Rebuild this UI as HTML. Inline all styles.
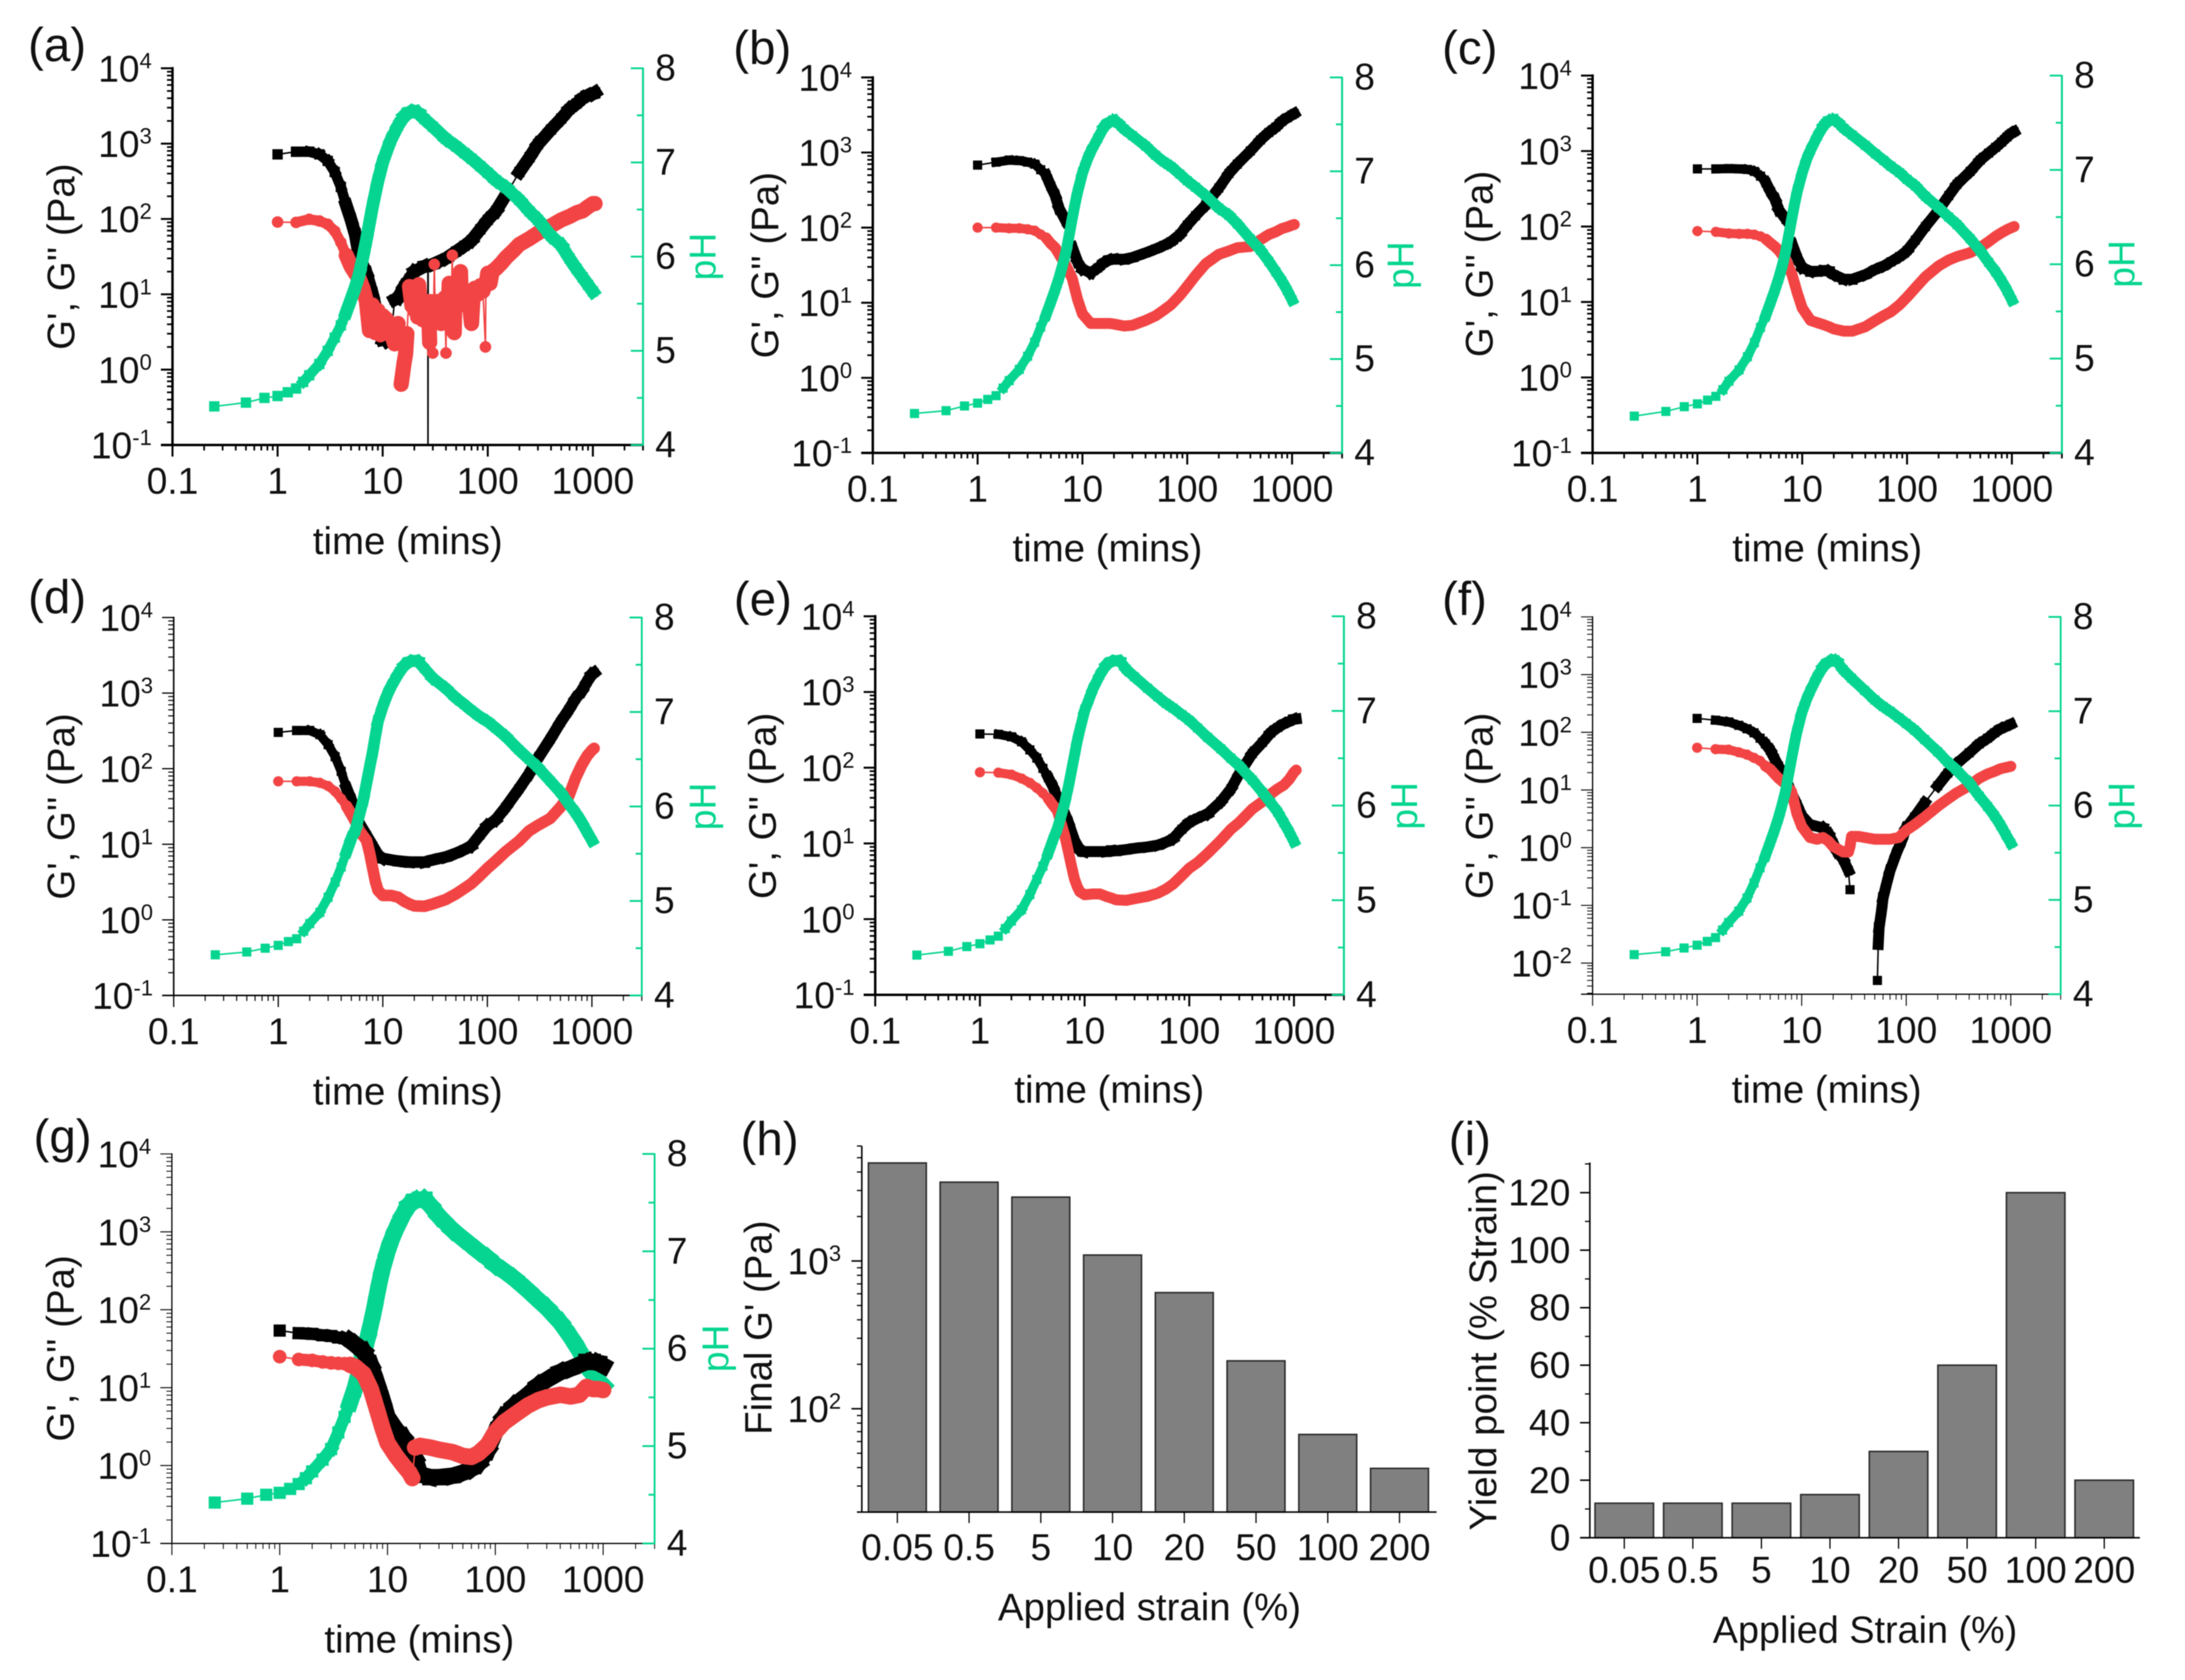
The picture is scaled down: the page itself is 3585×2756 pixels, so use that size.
<!DOCTYPE html>
<html lang="en">
<head>
<meta charset="utf-8">
<title>Rheology and pH panels</title>
<style>
html,body{margin:0;padding:0;background:#fff;}
svg{display:block;filter:blur(0.9px);}
text{font-family:"Liberation Sans",sans-serif;font-size:61px;fill:#111;}
.pl{font-size:78px;}
.at{font-size:63px;}
.gt{fill:#05d590;}
</style>
</head>
<body>
<svg id="fig" xmlns="http://www.w3.org/2000/svg" width="3585" height="2756" viewBox="0 0 3585 2756">
<rect width="3585" height="2756" fill="#fff"/>
<defs id="defs"></defs>
<text class="pl" x="46" y="100">(a)</text>
<text class="pl" x="1203" y="105">(b)</text>
<text class="pl" x="2366" y="105">(c)</text>
<text class="pl" x="46" y="1006">(d)</text>
<text class="pl" x="1204" y="1009">(e)</text>
<text class="pl" x="2366" y="1009">(f)</text>
<text class="pl" x="55" y="1891">(g)</text>
<text class="pl" x="1215" y="1895">(h)</text>
<text class="pl" x="2377" y="1895">(i)</text>

<text class="at" x="669" y="909" text-anchor="middle">time (mins)</text>
<text class="at" x="1817" y="921" text-anchor="middle">time (mins)</text>
<text class="at" x="2998" y="921" text-anchor="middle">time (mins)</text>
<text class="at" x="669" y="1812" text-anchor="middle">time (mins)</text>
<text class="at" x="1820" y="1809" text-anchor="middle">time (mins)</text>
<text class="at" x="2997" y="1809" text-anchor="middle">time (mins)</text>
<text class="at" x="688" y="2711" text-anchor="middle">time (mins)</text>
<text class="at" x="1886" y="2658" text-anchor="middle">Applied strain (%)</text>
<text x="3060" y="2695" text-anchor="middle" font-size="62" style="font-size:62px">Applied Strain (%)</text>

<text class="at" transform="translate(122,421) rotate(-90)" text-anchor="middle">G', G'' (Pa)</text>
<text class="at" transform="translate(1277,435) rotate(-90)" text-anchor="middle">G', G'' (Pa)</text>
<text class="at" transform="translate(2449,433) rotate(-90)" text-anchor="middle">G', G'' (Pa)</text>
<text class="at" transform="translate(122,1323) rotate(-90)" text-anchor="middle">G', G'' (Pa)</text>
<text class="at" transform="translate(1273,1322) rotate(-90)" text-anchor="middle">G', G'' (Pa)</text>
<text class="at" transform="translate(2449,1322) rotate(-90)" text-anchor="middle">G', G'' (Pa)</text>
<text class="at" transform="translate(121,2212) rotate(-90)" text-anchor="middle">G', G'' (Pa)</text>
<text class="at" transform="translate(1266,2178) rotate(-90)" text-anchor="middle">Final G' (Pa)</text>
<text class="at" transform="translate(2455,2216) rotate(-90)" text-anchor="middle">Yield point (% Strain)</text>

<text class="gt" transform="translate(1174,421) rotate(-90)" text-anchor="middle">pH</text>
<text class="gt" transform="translate(2319,435) rotate(-90)" text-anchor="middle">pH</text>
<text class="gt" transform="translate(3502,433) rotate(-90)" text-anchor="middle">pH</text>
<text class="gt" transform="translate(1174,1323) rotate(-90)" text-anchor="middle">pH</text>
<text class="gt" transform="translate(2325,1322) rotate(-90)" text-anchor="middle">pH</text>
<text class="gt" transform="translate(3502,1322) rotate(-90)" text-anchor="middle">pH</text>
<text class="gt" transform="translate(1195,2212) rotate(-90)" text-anchor="middle">pH</text>
</svg>
<script>
// ---- tick labels ----
const timeTickLabels = ["0.1","1","10","100","1000"];
const timeTickValues = [0.1,1,10,100,1000];
const modulusExponents = [4,3,2,1,0,-1];
const modulusExponentsF = [4,3,2,1,0,-1,-2];
const phTickValues = [4,5,6,7,8];
const phMinorValues = [4.5,5.5,6.5,7.5];

// ---- shared sampling times (minutes) ----
const timeG = [1,1.5,2,2.5,3,3.5,4,4.5,5,5.5,6,7,8,9,10,12,14,16,18,20,25,30,40,50,60,70,85,100,120,150,200,250,300,400,500,600,700,800,900,1000,1050];
const timeG1000 = [1,1.5,2,2.5,3,3.5,4,4.5,5,5.5,6,7,8,9,10,12,14,16,18,20,25,30,40,50,60,70,85,100,120,150,200,250,300,400,500,600,700,800,900,1000];
const timePh = [0.25,0.5,0.75,1,1.25,1.5,1.75,2,2.5,3,3.5,4,4.5,5,5.5,6,6.5,7,7.5,8,8.5,9,10,11,12,14,16,18,20,22,25,30,40,50,60,70,85,100,120,150,200,250,300,400,500,600,700,800,900,1000];

// ---- panel (a) ----
const aTimeStorage = [1,1.5,2,2.5,3,3.5,4,4.5,5,5.5,6,7,8,9,10,11,12,13,14,16,18,20,25,26.9,27,27.1,30,40,50,60,70,85,100,120,150,200,250,300,400,500,600,700,800,900,1000,1050];
const aStorage = [720,780,780,720,590,420,266,152,97,61,31,19,10,5,2.5,2.4,2.6,8.5,9,12.7,16,20,23.5,24,0.05,24,25,30,37,44,52,73,97,128,213,420,660,980,1540,2150,2880,3400,4000,4370,4570,4780];
const aTimeLoss = [1,1.5,2,2.5,3,3.5,4,4.5,5,5.5,6,6.5,7,7.5,8,8.5,9,9.5,10,11,12,13,14,15,16,16.5,17,18,19,20,20.5,21,21.5,22,23,24,25,26,27,27.5,28,28.5,29,30,30.5,31,31.5,32,33,34,35,36,36.5,37,38,39,40,40.5,41,42,43,44,45,46,46.5,47,48,48.5,50,52,54,55,56,58,60,63,66,68,70,72,75,80,85,90,95,96,100,105,110,120,135,150,175,200,250,300,400,500,600,700,800,900,1000,1050];
const aLoss = [91,90,99,94,85,69,49,33,23.5,19,16,12,8.1,3.3,7.2,3.1,6.1,2.9,5.2,4.6,3.1,2.2,4.1,0.64,1.25,1.6,3,12.7,7,9.6,6,8,5,13.4,6,4.6,7,6.4,8,5,2.3,6,8,1.66,6,25,7,6,8,5.5,8,4.1,6,8,6.5,9,1.66,6,8,6,14,7,9,33,7,10,3.1,7,10,7,10,20,8,11,7.5,11,8,6,4.1,8,12,10,13,11,2,13,19,14,20,22,26,31,38,46,55,65,81,97,108,121,128,145,160,160];
const aPh = [4.41,4.45,4.50,4.52,4.56,4.60,4.67,4.74,4.86,5.0,5.14,5.27,5.41,5.55,5.68,5.82,6.0,6.18,6.36,6.53,6.67,6.8,7.0,7.13,7.24,7.39,7.49,7.53,7.54,7.52,7.46,7.38,7.25,7.17,7.1,7.04,6.96,6.89,6.81,6.73,6.6,6.48,6.39,6.22,6.12,5.98,5.87,5.78,5.7,5.63];

// ---- panel (b) ----
const bStorage = [680,745,790,780,745,700,590,500,355,267,180,120,55,35,28,25,29,34,37,38,38,40,46,52,58,65,81,108,144,200,337,527,700,1050,1470,1850,2180,2600,2900,3170,3300];
const bLoss = [100,100,98,98,95,91,81,73,61,54,44,31,21,11,7.1,5.3,5.3,5.3,5.3,5.2,4.9,5,5.8,6.7,8,9.4,12.5,16.6,23,33,44,49,54,56,69,81,88,97,102,108,110];
const bPh = [4.42,4.45,4.50,4.53,4.57,4.61,4.69,4.77,4.89,5.03,5.18,5.34,5.47,5.61,5.74,5.87,6.01,6.15,6.33,6.5,6.65,6.78,6.98,7.11,7.21,7.35,7.47,7.52,7.54,7.51,7.45,7.38,7.27,7.17,7.1,7.05,6.97,6.9,6.83,6.74,6.61,6.53,6.44,6.28,6.16,6.04,5.93,5.83,5.73,5.63];

// ---- panel (c) ----
const cStorage = [580,580,585,580,570,537,465,383,288,230,165,124,59,38,28.5,25.5,25.5,26,25.5,23,20,20,23,27,30,34,40,48,66,100,165,257,363,537,760,940,1120,1320,1540,1730,1800];
const cLoss = [87,85,81,80,80,78,74,68,60,54,48,36,23,13,8.3,5.7,5.3,5,4.7,4.4,4.1,4.1,4.7,5.7,6.6,7.4,9.2,11.6,15.4,21.6,30,36,40,45,53,63,74,83,91,97,100];
const cPh = [4.39,4.44,4.49,4.52,4.56,4.6,4.67,4.76,4.88,5.02,5.17,5.33,5.46,5.6,5.73,5.86,6.0,6.15,6.33,6.5,6.65,6.78,6.97,7.11,7.21,7.36,7.47,7.52,7.53,7.5,7.44,7.37,7.26,7.17,7.1,7.04,6.97,6.9,6.83,6.72,6.6,6.5,6.42,6.27,6.14,6.02,5.92,5.82,5.72,5.62];

// ---- panel (d) ----
const dTimeLoss = [1,1.5,2,2.5,3,3.5,4,4.5,5,5.5,6,7,7.5,8,8.5,9,10,12,14,16,18,20,25,30,40,50,60,70,85,100,120,150,200,250,300,400,500,600,700,800,900,1000,1050];
const dStorage = [302,320,320,282,208,144,92,55,38,24.6,18.6,13,9.5,7.2,6.5,6.2,6,5.9,5.8,5.8,5.8,6.2,6.8,7.6,8.5,9.5,13.3,17.6,21,31,54,85,133,247,410,600,850,1070,1420,1770,1860];
const dLoss = [68,68,68,65,59,50,40,32,25,19.7,15,11.2,7.6,4.8,3.2,2.45,2.1,2.1,2,1.76,1.62,1.53,1.51,1.62,1.86,2.2,2.6,3,3.85,4.8,6,8,11,15,17.6,22,31,43,76,112,148,176,186];
const dPh = [4.43,4.46,4.5,4.53,4.57,4.6,4.68,4.76,4.88,5.04,5.2,5.36,5.52,5.66,5.76,5.92,6.07,6.25,6.42,6.58,6.75,6.9,7.06,7.18,7.27,7.4,7.49,7.53,7.54,7.53,7.46,7.36,7.25,7.15,7.08,7.02,6.95,6.9,6.83,6.74,6.6,6.5,6.42,6.27,6.15,6.03,5.93,5.83,5.73,5.64];

// ---- panel (e) ----
const eTimeLoss = [1,1.5,2,2.5,3,3.5,4,4.5,5,5.5,6,6.5,7,7.5,8,8.5,9,10,12,14,16,18,20,25,30,40,50,60,70,85,100,120,150,200,250,300,400,500,600,700,800,900,1000,1050];
const eStorage = [279,276,256,220,172,134,98,74,56,40,32,19,11,8.3,7.8,7.8,7.8,7.8,8,8,8.3,8.6,9,9.5,10.4,11.6,15.4,18.8,21.5,24.6,35.6,52.7,83,154,216,288,339,380,408,436,440];
const eLoss = [87,86,81,72,63,54,46,39,32,27,18,12.3,7.8,5,3.4,2.7,2.3,2.1,2.15,2.15,2,1.9,1.8,1.77,1.86,2,2.2,2.5,2.9,3.76,4.7,5.6,7.4,11,15.4,19,28.5,35.6,45,52.7,59,70,87,93];
const ePh = [4.42,4.46,4.51,4.54,4.58,4.62,4.7,4.78,4.9,5.06,5.22,5.36,5.5,5.64,5.76,5.9,6.04,6.2,6.37,6.53,6.68,6.8,7.0,7.12,7.23,7.38,7.48,7.52,7.53,7.52,7.44,7.36,7.24,7.15,7.08,7.03,6.96,6.9,6.82,6.72,6.6,6.5,6.42,6.27,6.14,6.03,5.93,5.82,5.72,5.62];

// ---- panel (f) ----
const fTimeStorage = [1,1.5,2,2.5,3,3.5,4,4.5,5,5.5,6,7,8,9,10,12,14,16,18,20,22,25,28,29,40,53,54,55,58,60,65,70,80,90,100,120,150,200,250,300,400,500,600,700,800,900,1000];
const fStorage = [174,162,151,132,115,98,79,63,49,35,26,16,8.8,5.6,3.6,2.5,2.34,2.2,1.75,1.2,0.84,0.62,0.4,0.187,null,0.005,0.021,0.041,0.08,0.134,0.24,0.4,0.78,1.3,2.2,3.4,6,11.8,19.6,28,44,63,79,98,115,126,138];
const fTimeLoss = [1,1.5,2,2.5,3,3.5,4,4.5,5,5.5,6,7,8,8.5,9,10,12,14,16,18,20,25,28,29,30,35,40,50,60,70,85,100,120,150,200,250,300,400,500,600,700,800,900,1000];
const fLoss = [54,51,50,45,41,36,32,26,23,19,16,12.7,9.4,6,3.9,2.34,1.5,1.4,1.5,1.3,1.05,0.84,0.84,1.05,1.57,1.57,1.5,1.4,1.4,1.4,1.5,2,2.5,3.4,5.2,7,8.8,11.8,16,19,21,23.4,24.5,25.7];
const fPh = [4.42,4.45,4.49,4.52,4.56,4.6,4.68,4.76,4.88,5.02,5.18,5.34,5.47,5.61,5.74,5.87,6.01,6.15,6.33,6.5,6.65,6.78,6.98,7.11,7.21,7.36,7.47,7.52,7.54,7.52,7.44,7.35,7.22,7.12,7.05,7.0,6.93,6.87,6.8,6.7,6.57,6.46,6.38,6.24,6.1,5.99,5.89,5.79,5.69,5.6];

// ---- panel (g) ----
const gTimeLoss = [1,1.5,2,2.5,3,3.5,4,4.5,5,5.5,6,7,8,9,10,12,14,16,17,18,20,25,30,40,50,60,70,85,100,120,150,200,250,300,400,500,600,700,800,900,1000];
const gStorage = [54,50,49,47,46,44,43,40,36,32,29,19.6,11.4,6.9,4.2,2.9,2.3,1.66,1.26,0.77,0.71,0.71,0.74,0.81,0.91,1.07,1.57,2.7,4.2,5.9,8.1,10.7,12.6,15.8,17.6,19.6,21.4,21.4,20.8,19.2];
const gLoss = [25,23,22.4,21.4,20.8,20.5,20.3,19.6,18.6,16.6,15,9.6,5.2,3,1.95,1.33,1.01,0.81,0.69,1.7,1.79,1.7,1.6,1.49,1.33,1.29,1.44,1.85,2.7,3.57,4.46,5.9,6.9,7.5,8.1,7.7,8.1,10.2,9.6,9.6,9.3];
const gPh = [4.42,4.46,4.5,4.52,4.56,4.61,4.67,4.74,4.86,4.97,5.14,5.3,5.45,5.6,5.78,5.98,6.1,6.25,6.4,6.56,6.7,6.82,7.0,7.13,7.23,7.38,7.48,7.52,7.53,7.53,7.47,7.36,7.22,7.13,7.06,7.0,6.93,6.86,6.8,6.72,6.6,6.5,6.42,6.27,6.12,5.98,5.84,5.74,5.67,5.62];

// ---- bar panels ----
const strainCategories = ["0.05","0.5","5","10","20","50","100","200"];
const finalModulus = [4606,3415,2706,1097,611,211,67,39.5];
const yieldPoint = [12,12,12,15,30,60,120,20];
const finalExponents = [3,2];
const yieldTicks = [0,20,40,60,80,100,120];
const yieldMinorTicks = [10,30,50,70,90,110,130];

const BLACK = '#000';
const RED = '#f24444';
const GREEN = '#05d590';
const NS = 'http://www.w3.org/2000/svg';
const svg = document.getElementById('fig');
const defs = document.getElementById('defs');

function mk(tag, attrs, parent){
  const e = document.createElementNS(NS, tag);
  for (const k in attrs) e.setAttribute(k, attrs[k]);
  (parent || svg).appendChild(e);
  return e;
}
function seg(x1,y1,x2,y2,color,w,parent){
  return mk('line',{x1:x1,y1:y1,x2:x2,y2:y2,stroke:color,'stroke-width':w},parent);
}
function powerLabel(x,y,exp,parent){
  const t = mk('text',{x:x,y:y,'text-anchor':'end'},parent);
  t.appendChild(document.createTextNode('10'));
  const s = mk('tspan',{dy:-22,'font-size':36},t);
  s.textContent = String(exp);
  
  
  return t;
}
const LOG_X_MAX = Math.log10(3000);

function drawSeries(g, p, times, values, toY, color, shape, maxDist, band, name){
  const pts = [];
  for (let i=0;i<times.length;i++){
    const v = values[i];
    if (v===null || v===undefined) { pts.push(null); continue; }
    pts.push([p.xs(times[i]), toY(v)]);
  }
  let thin='', mid='', wide='';
  for (let i=1;i<pts.length;i++){
    const a=pts[i-1], b=pts[i];
    if(!a||!b) continue;
    const dist=Math.hypot(b[0]-a[0],b[1]-a[1]);
    const piece='M'+a[0].toFixed(1)+' '+a[1].toFixed(1)+'L'+b[0].toFixed(1)+' '+b[1].toFixed(1);
    thin+=piece;
    if(dist<maxDist && times[i]>1.9){
      if(times[i]<5) mid+=piece; else wide+=piece;
    }
  }
  const series = mk('g',{},g);
  
  
  const cap = shape==='circle'?'round':'square';
  mk('path',{d:thin,fill:'none',stroke:color,'stroke-width':2.5},series);
  mk('path',{d:mid,fill:'none',stroke:color,'stroke-width':p.size,'stroke-linecap':cap},series);
  mk('path',{d:wide,fill:'none',stroke:color,'stroke-width':band,'stroke-linecap':cap},series);
  for(const pt of pts){
    if(!pt) continue;
    if(shape==='circle'){
      const c = mk('circle',{cx:pt[0],cy:pt[1],r:p.size*0.56,fill:color},series);
      
      
    } else {
      const r = mk('rect',{x:pt[0]-p.size/2,y:pt[1]-p.size/2,width:p.size,height:p.size,fill:color},series);
      
      
    }
  }
}

function drawLogPanel(p){
  const root = mk('g',{});
  
  
  const W=p.R-p.L, H=p.B-p.T;
  p.xs = t => p.L+(Math.log10(t)+1)/(LOG_X_MAX+1)*W;
  const yG = v => p.T+(4-Math.log10(v))/(4-p.yMin)*H;
  const yP = v => p.B-(v-4)/4*H;

  const cp = mk('clipPath',{id:'clip-'+p.id},defs);
  mk('rect',{x:p.L,y:p.T,width:W+20,height:H},cp);

  const plot = mk('g',{'clip-path':'url(#clip-'+p.id+')'},root);
  
  
  const gPlot = mk('g',{},root);
  
  
  if(p.greenFirst){
    drawSeries(plot,p,timePh,p.ph,yP,GREEN,'square',60,p.band,'ph-series-'+p.id);
    drawSeries(plot,p,p.tS,p.storage,yG,BLACK,'square',p.gap,p.band,'storage-modulus-'+p.id);
    drawSeries(plot,p,p.tL,p.loss,yG,RED,'circle',p.gap+10,p.lossBand||p.band,'loss-modulus-'+p.id);
  } else {
    drawSeries(plot,p,p.tS,p.storage,yG,BLACK,'square',p.gap,p.band,'storage-modulus-'+p.id);
    drawSeries(plot,p,p.tL,p.loss,yG,RED,'circle',p.gap+10,p.lossBand||p.band,'loss-modulus-'+p.id);
    drawSeries(gPlot,p,timePh,p.ph,yP,GREEN,'square',60,p.band,'ph-series-'+p.id);
  }

  // left axis
  seg(p.L,p.T-p.ax/2,p.L,p.B,BLACK,p.ax,root);
  for(let e=Math.floor(p.yMin);e<4;e++){
    for(let m=2;m<=9;m++){
      const v=m*Math.pow(10,e);
      if(Math.log10(v)<p.yMin) continue;
      seg(p.L-9,yG(v),p.L,yG(v),BLACK,p.ax*0.7,root);
    }
  }
  for(const e of p.exps){
    const y=yG(Math.pow(10,e));
    seg(p.L-19,y,p.L,y,BLACK,p.ax*0.8,root);
    powerLabel(p.L-34,y+22,e,root);
  }
  // bottom axis
  seg(p.L-19,p.B,p.R,p.B,BLACK,p.ax,root);
  for(let e=-1;e<4;e++){
    for(let m=2;m<=9;m++){
      const v=m*Math.pow(10,e);
      if(Math.log10(v)>LOG_X_MAX+1e-6) continue;
      seg(p.xs(v),p.B,p.xs(v),p.B+9,BLACK,p.ax*0.7,root);
    }
  }
  timeTickValues.forEach((v,i)=>{
    const x=p.xs(v);
    seg(x,p.B,x,p.B+19,BLACK,p.ax*0.8,root);
    const t=mk('text',{x:x,y:p.B+80,'text-anchor':'middle'},root);
    t.textContent=timeTickLabels[i];
    
    
  });
  // right pH axis
  seg(p.R,p.T-1,p.R,p.B+1,GREEN,Math.max(3,p.ax*0.8),root);
  for(const v of phMinorValues) seg(p.R-10,yP(v),p.R,yP(v),GREEN,3,root);
  for(const v of phTickValues){
    seg(p.R-20,yP(v),p.R,yP(v),GREEN,3,root);
    const t=mk('text',{x:p.R+20,y:yP(v)+20},root);
    t.textContent=String(v);
    
    
  }
}

const logPanels = [
  {id:'a',L:283,R:1055,T:112,B:730,yMin:-1,exps:modulusExponents,size:17,band:21,lossBand:25,gap:40,ax:4,tS:aTimeStorage,storage:aStorage,tL:aTimeLoss,loss:aLoss,ph:aPh},
  {id:'b',L:1432,R:2202,T:127,B:743,yMin:-1,exps:modulusExponents,size:15,band:18,gap:40,ax:4,tS:timeG,storage:bStorage,tL:timeG,loss:bLoss,ph:bPh},
  {id:'c',L:2613,R:3383,T:124,B:743,yMin:-1,exps:modulusExponents,size:15,band:18,gap:40,ax:4,tS:timeG,storage:cStorage,tL:timeG,loss:cLoss,ph:cPh},
  {id:'d',L:285,R:1053,T:1013,B:1633,yMin:-1,exps:modulusExponents,size:15,band:19,gap:40,ax:2.5,tS:timeG,storage:dStorage,tL:dTimeLoss,loss:dLoss,ph:dPh},
  {id:'e',L:1436,R:2205,T:1011,B:1632,yMin:-1,exps:modulusExponents,size:15,band:18,gap:40,ax:4,tS:timeG,storage:eStorage,tL:eTimeLoss,loss:eLoss,ph:ePh},
  {id:'f',L:2613,R:3381,T:1012,B:1631,yMin:-2.54,exps:modulusExponentsF,size:15,band:18,gap:30,ax:2,tS:fTimeStorage,storage:fStorage,tL:fTimeLoss,loss:fLoss,ph:fPh},
  {id:'g',L:282,R:1074,T:1893,B:2532,yMin:-1,exps:modulusExponents,size:20,band:27,gap:40,ax:2,tS:timeG1000,storage:gStorage,tL:gTimeLoss,loss:gLoss,ph:gPh,greenFirst:true}
];
logPanels.forEach(drawLogPanel);

// ---- panel (h) ----
(function(){
  const L=1414,R=2357,T=1880,B=2480.5,first=1472.3,step=117.7,bw=95;
  const yMinLog=Math.log10(20), yMaxLog=Math.log10(6000);
  const y=v=>B-(Math.log10(v)-yMinLog)/(yMaxLog-yMinLog)*(B-T);
  const xc=i=>first+i*step;
  const root=mk('g',{});
  
  
  finalModulus.forEach((v,i)=>{
    const r=mk('rect',{x:xc(i)-bw/2,y:y(v),width:bw,height:B-y(v),fill:'#808080',stroke:'#2a2a2a','stroke-width':2.5},root);
    
    
  });
  seg(L,T,L,B,BLACK,2.5,root);
  seg(L-8,B,R,B,BLACK,2.5,root);
  for(let e=1;e<4;e++){
    for(let m=2;m<=9;m++){
      const v=m*Math.pow(10,e);
      if(v>6000) continue;
      seg(L-8,y(v),L,y(v),BLACK,2,root);
    }
  }
  finalExponents.forEach(e=>{
    const yy=y(Math.pow(10,e));
    seg(L-17,yy,L,yy,BLACK,2.5,root);
    powerLabel(L-34,yy+22,e,root);
  });
  strainCategories.forEach((c,i)=>{
    seg(xc(i),B,xc(i),B+18,BLACK,2,root);
    const t=mk('text',{x:xc(i),y:B+79,'text-anchor':'middle'},root);
    t.textContent=c;
    
    
  });
})();

// ---- panel (i) ----
(function(){
  const L=2608.5,R=3511,T=1907,B=2522.6,first=2665,step=112.5,bw=96;
  const y=v=>B-v/130.5*(B-T);
  const xc=i=>first+i*step;
  const root=mk('g',{});
  
  
  yieldPoint.forEach((v,i)=>{
    const r=mk('rect',{x:xc(i)-bw/2,y:y(v),width:bw,height:B-y(v),fill:'#808080',stroke:'#2a2a2a','stroke-width':2.5},root);
    
    
  });
  seg(L,T,L,B,BLACK,2.5,root);
  seg(L-16,B,R,B,BLACK,2.5,root);
  yieldMinorTicks.forEach(v=>seg(L-8,y(v),L,y(v),BLACK,2,root));
  yieldTicks.forEach(v=>{
    seg(L-16,y(v),L,y(v),BLACK,2.5,root);
    const t=mk('text',{x:L-32,y:y(v)+21,'text-anchor':'end'},root);
    t.textContent=String(v);
    
    
  });
  strainCategories.forEach((c,i)=>{
    seg(xc(i),B,xc(i),B+18,BLACK,2,root);
    const t=mk('text',{x:xc(i),y:B+74,'text-anchor':'middle'},root);
    t.textContent=c;
    
    
  });
})();
</script>
</body>
</html>
